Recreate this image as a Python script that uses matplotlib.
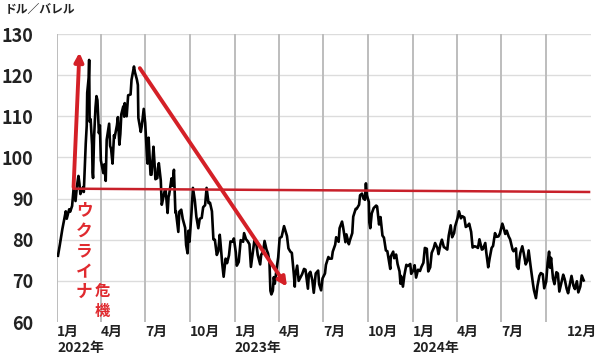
import matplotlib
matplotlib.use("Agg")
import matplotlib.pyplot as plt
import matplotlib.dates as mdates
import pandas as pd

plt.rcParams['font.family'] = ['Noto Sans CJK JP', 'DejaVu Sans']

# ---- data (WTI crude, USD/barrel) ----
dates_2022 = ["01-03","01-07","01-12","01-14","01-19","01-21","01-26","01-28","02-01","02-04","02-08","02-11",
              "02-14","02-16","02-18","02-22","02-24","02-25","03-01","03-03","03-04","03-07","03-08","03-09",
              "03-11","03-14","03-15","03-16","03-18","03-21","03-23","03-25","03-28","03-30","04-01","04-06",
              "04-08","04-11","04-13","04-18","04-20","04-22","04-25","04-28","04-29","05-04","05-06","05-09",
              "05-11","05-13","05-17","05-19","05-20","05-24","05-27","06-01","06-03","06-08","06-10","06-14",
              "06-16","06-17","06-22","06-24","06-28","07-01","07-05","07-06","07-08","07-12","07-14","07-18",
              "07-20","07-22","07-26","07-27","07-29","08-02","08-04","08-05","08-10","08-12","08-16","08-18",
              "08-19","08-24","08-26","08-29","09-01","09-02","09-07","09-09","09-13","09-16","09-21","09-23",
              "09-26","09-28","09-30","10-04","10-07","10-11","10-14","10-18","10-21","10-25","10-28","11-01",
              "11-04","11-08","11-11","11-15","11-18","11-21","11-25","11-28","12-01","12-02","12-06","12-09",
              "12-13","12-16","12-20","12-23","12-27","12-30"]
wti_2022 = [76.1,78.9,82.6,83.8,86.9,85.1,87.4,86.8,88.2,92.3,89.4,93.1,
            95.5,93.7,91.1,92.4,92.8,91.6,103.4,107.7,115.7,119.4,123.7,108.7,
            109.3,103.0,96.4,95.0,104.7,112.1,114.9,113.9,105.9,107.8,99.3,96.2,
            98.3,94.3,104.3,108.2,102.8,102.1,98.5,105.4,104.7,107.8,109.8,103.1,
            105.7,110.5,112.4,109.9,113.2,110.0,115.1,115.3,118.9,122.1,120.7,118.9,
            117.6,109.6,106.2,107.6,111.8,108.4,99.5,98.5,104.8,95.8,95.8,102.6,
            98.9,94.7,95.0,97.3,98.6,94.4,88.5,89.0,91.9,92.1,86.5,90.5,
            90.8,94.9,93.1,97.0,86.6,86.9,81.9,86.8,87.3,85.1,82.9,78.7,
            76.7,82.2,79.5,86.5,92.6,89.4,85.6,82.8,85.1,85.3,87.9,88.4,
            92.6,88.9,89.0,86.9,80.1,80.0,76.3,77.2,81.2,80.0,74.3,71.0,
            75.4,74.3,76.2,79.6,79.5,80.3]

dates_2023 = ["01-03","01-05","01-09","01-13","01-18","01-20","01-24","01-27","01-31","02-03","02-07","02-10",
              "02-14","02-17","02-22","02-24","02-28","03-03","03-07","03-10","03-13","03-15","03-17","03-20",
              "03-22","03-24","03-28","03-31","04-03","04-07","04-12","04-14","04-18","04-21","04-25","04-28",
              "05-02","05-04","05-05","05-09","05-12","05-16","05-19","05-23","05-26","05-31","06-02","06-05",
              "06-09","06-12","06-15","06-16","06-21","06-23","06-27","06-30","07-05","07-07","07-12","07-14",
              "07-19","07-21","07-26","07-28","08-02","08-04","08-09","08-11","08-16","08-18","08-23","08-25",
              "08-30","09-01","09-06","09-08","09-13","09-15","09-19","09-22","09-25","09-27","09-29","10-03",
              "10-04","10-06","10-09","10-13","10-18","10-20","10-24","10-27","10-31","11-03","11-07","11-10",
              "11-16","11-17","11-22","11-24","11-28","12-01","12-05","12-07","12-08","12-12","12-15","12-19",
              "12-22","12-27","12-29"]
wti_2023 = [76.9,73.7,74.6,79.9,79.5,81.6,80.1,79.7,78.9,73.4,77.1,79.7,
            79.1,76.3,74.0,76.3,77.1,79.7,77.6,76.7,74.8,67.6,66.7,67.6,
            70.9,69.3,73.2,75.7,80.4,80.7,83.3,82.5,80.9,77.9,77.1,76.8,
            71.7,68.6,71.3,73.7,70.0,70.9,71.6,72.9,72.7,68.1,71.7,72.2,
            70.2,67.1,70.6,71.8,72.5,69.2,67.7,70.6,71.8,73.9,75.8,75.4,
            75.4,77.1,78.8,80.6,79.5,82.8,84.4,83.2,79.4,81.3,78.9,79.8,
            81.6,85.6,87.5,87.5,88.5,90.8,91.2,90.0,89.7,93.7,90.8,89.2,
            84.2,82.8,86.4,87.7,88.3,88.1,83.7,85.5,81.0,80.5,77.4,77.2,
            72.9,75.9,77.1,75.5,76.4,74.1,72.3,69.3,71.2,68.6,71.4,73.9,
            73.6,74.1,71.7]

dates_2024 = ["01-03","01-05","01-08","01-12","01-16","01-19","01-23","01-26","01-30","02-02","02-06","02-09",
              "02-13","02-16","02-21","02-23","02-27","03-01","03-05","03-08","03-12","03-15","03-19","03-22",
              "03-26","03-28","04-02","04-05","04-09","04-12","04-16","04-19","04-23","04-26","04-30","05-03",
              "05-07","05-10","05-14","05-17","05-22","05-24","05-29","05-31","06-04","06-07","06-11","06-14",
              "06-18","06-21","06-25","06-28","07-03","07-05","07-09","07-12","07-16","07-19","07-24","07-26",
              "07-31","08-02","08-05","08-07","08-09","08-13","08-16","08-20","08-23","08-26","08-30","09-04",
              "09-06","09-10","09-13","09-17","09-20","09-24","09-27","10-01","10-04","10-07","10-09","10-11",
              "10-15","10-18","10-22","10-25","10-28","11-01","11-05","11-08","11-12","11-15","11-19","11-22",
              "11-26","11-29","12-03","12-06","12-10","12-13","12-17"]
wti_2024 = [72.7,73.8,70.8,72.7,72.4,73.4,74.4,78.0,77.8,72.3,73.3,76.8,
            77.9,79.2,77.9,76.5,78.9,80.0,78.2,78.0,77.6,81.0,83.5,80.6,
            81.6,83.2,85.2,86.9,85.2,85.7,85.4,83.1,83.4,83.9,81.9,78.1,
            78.4,78.3,78.0,80.1,77.6,77.7,79.2,77.0,73.3,75.5,78.0,78.5,
            81.6,80.7,80.8,81.5,83.9,83.2,81.4,82.2,80.8,80.1,77.6,77.2,
            77.9,73.5,72.9,75.2,76.8,78.4,76.7,74.0,74.8,77.4,73.6,69.2,
            67.7,65.8,68.7,71.2,71.9,71.6,68.2,69.8,74.4,77.1,73.2,75.6,
            70.6,69.2,72.1,71.8,67.4,69.5,71.5,70.4,68.1,67.0,69.4,71.2,
            68.8,68.0,69.9,67.2,68.6,71.3,70.1]

y_ticks = [60, 70, 80, 90, 100, 110, 120, 130]
grid_quarters = ["2022-01-01","2022-04-01","2022-07-01","2022-10-01",
                 "2023-01-01","2023-04-01","2023-07-01","2023-10-01",
                 "2024-01-01","2024-04-01","2024-07-01","2024-10-01"]
month_label_dates = ["2022-01-01","2022-04-01","2022-07-01","2022-10-01",
                     "2023-01-01","2023-04-01","2023-07-01","2023-10-01",
                     "2024-01-01","2024-04-01","2024-07-01","2024-11-12"]
month_labels = ["1月","4月","7月","10月","1月","4月","7月","10月","1月","4月","7月","12月"]
year_label_dates = ["2022-01-01","2023-01-01","2024-01-01"]
year_labels = ["2022年","2023年","2024年"]

# annotation anchors
up_arrow = (("2022-02-04", 92.8), ("2022-02-16", 125.5))
down_arrow = (("2022-06-20", 121.7), ("2023-04-18", 68.6))
level_line = (("2022-02-04", 92.4), ("2024-12-28", 91.6))

# ---- build ----
dates = pd.to_datetime(["2022-" + d for d in dates_2022] +
                       ["2023-" + d for d in dates_2023] +
                       ["2024-" + d for d in dates_2024])
wti = wti_2022 + wti_2023 + wti_2024

W, H = 600, 355
fig = plt.figure(figsize=(6, 3.55), dpi=100)
ax = fig.add_axes([57 / W, 1 - 322 / H, (591 - 57) / W, (322 - 34) / H])

def px(x, y):
    return x / W, 1 - y / H

ax.set_xlim(pd.Timestamp("2022-01-01"), pd.Timestamp("2025-01-01"))
ax.set_ylim(60, 130)

for v in y_ticks[1:]:
    ax.axhline(v, color="#dcdcdc", lw=1.0, zorder=0)
for d in grid_quarters:
    ax.axvline(pd.Timestamp(d), color="#bdbdbd", lw=1.4, zorder=1)

ax.plot(dates, wti, color="black", lw=1.9, zorder=3)

(l0, l1) = level_line
ax.plot([pd.Timestamp(l0[0]), pd.Timestamp(l1[0])], [l0[1], l1[1]], color="#c8202a", lw=1.8, zorder=4)
for (a, b) in (up_arrow, down_arrow):
    ax.annotate("", xy=(pd.Timestamp(b[0]), b[1]), xytext=(pd.Timestamp(a[0]), a[1]),
                arrowprops=dict(arrowstyle="-|>", color="#d42027", lw=2.8,
                                mutation_scale=13, shrinkA=0, shrinkB=0),
                zorder=5)

for s in ax.spines.values():
    s.set_visible(False)
ax.set_yticks(y_ticks)
ax.set_yticklabels([str(v) for v in y_ticks], fontsize=13, fontweight="bold", color="#222222")
ax.tick_params(axis="y", length=0, pad=17)
ax.set_xticks([])

def xfig(d):
    xd = mdates.date2num(pd.Timestamp(d))
    return ax.transData.transform((xd, 60))[0] / fig.dpi / fig.get_figwidth()

for d, lab in zip(month_label_dates, month_labels):
    fig.text(xfig(d), 1 - 336 / H, lab, ha="left", va="baseline",
             fontsize=10, fontweight="bold", color="#222222")
for d, lab in zip(year_label_dates, year_labels):
    fig.text(xfig(d), 1 - 352 / H, lab, ha="left", va="baseline",
             fontsize=10, fontweight="bold", color="#222222")

fig.text(*px(5, 9), "ドル／バレル", ha="left", va="center", fontsize=8.5,
         fontweight="bold", color="#222222")

txt_red = "#e02a2f"
for ch, yy in zip("ウクライナ", [210, 231, 251, 272, 292]):
    fig.text(*px(84, yy), ch, ha="center", va="center", fontsize=12,
             fontweight="bold", color=txt_red)
for ch, yy in zip("危機", [292, 311]):
    fig.text(*px(102, yy), ch, ha="center", va="center", fontsize=11,
             fontweight="bold", color=txt_red)

fig.savefig("out.png", dpi=100)
